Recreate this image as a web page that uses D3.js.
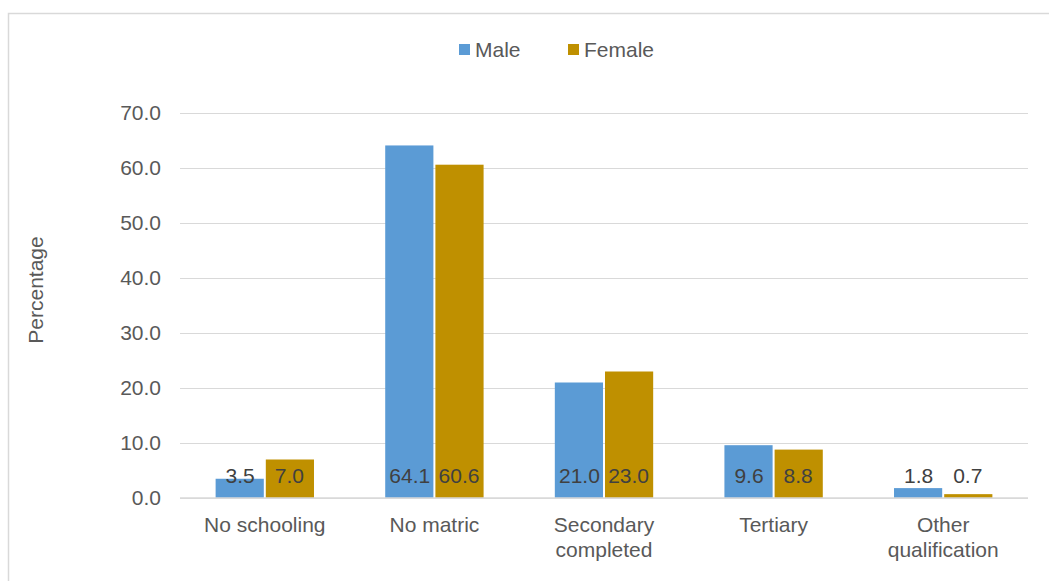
<!DOCTYPE html>
<html>
<head>
<meta charset="utf-8">
<script src="https://cdn.jsdelivr.net/npm/d3@7"></script>
<style>
  html, body { margin: 0; padding: 0; background: #fff; }
  svg { display: block; font-family: Arial, "Liberation Sans", sans-serif; }
</style>
</head>
<body>
<svg id="chart" width="1049" height="581"></svg>
<script>
// Educational attainment by sex (percent)
const categories = [["No schooling"], ["No matric"], ["Secondary", "completed"], ["Tertiary"], ["Other", "qualification"]];
const seriesNames = ["Male", "Female"];
const male = [3.5, 64.1, 21.0, 9.6, 1.8];
const female = [7.0, 60.6, 23.0, 8.8, 0.7];
const yTicks = [0, 10, 20, 30, 40, 50, 60, 70];
const colors = ["#5B9BD5", "#BF9000"];

const svg = d3.select("#chart");
const W = 1049, H = 581;
const margin = { left: 180, right: 21, top: 113, bottom: 83 };
const plotW = W - margin.left - margin.right;
const plotH = H - margin.top - margin.bottom;

// outer chart frame
svg.append("rect")
  .attr("x", 8.5).attr("y", 13.5)
  .attr("width", 1100).attr("height", 700)
  .attr("fill", "none").attr("stroke", "#d9d9d9").attr("stroke-width", 1.5);

const keys = categories.map(c => c.join(" "));
const x = d3.scaleBand().domain(keys).range([0, plotW]).paddingInner(0.42).paddingOuter(0.21);
const xs = d3.scaleBand().domain(seriesNames).range([0, x.bandwidth()]);
const y = d3.scaleLinear().domain([0, 70]).range([plotH, 0]);

const g = svg.append("g").attr("transform", `translate(${margin.left},${margin.top})`);

// horizontal gridlines
const yAxis = d3.axisLeft(y).tickValues(yTicks).tickSize(-plotW).tickPadding(19)
  .tickFormat(d3.format(".1f"));
const ya = g.append("g").call(yAxis);
ya.select(".domain").remove();
ya.selectAll(".tick line").attr("stroke", "#d9d9d9").attr("stroke-width", 1);
ya.selectAll(".tick text").attr("fill", "#595959").style("font-size", "21px")
  .style("font-family", "Arial, 'Liberation Sans', sans-serif");

// bars
const rows = keys.map((k, i) => ({ key: k, values: [male[i], female[i]] }));
const groups = g.selectAll(".grp").data(rows).join("g")
  .attr("transform", d => `translate(${x(d.key)},0)`);

groups.selectAll("rect").data(d => d.values.map((v, j) => ({ v, j })))
  .join("rect")
  .attr("x", d => xs(seriesNames[d.j]) + (d.j === 1 ? 1 : 0))
  .attr("width", xs.bandwidth() - 1)
  .attr("y", d => y(d.v))
  .attr("height", d => plotH - y(d.v))
  .attr("fill", d => colors[d.j]);

// value labels at the base of each bar
groups.selectAll("text.val").data(d => d.values.map((v, j) => ({ v, j })))
  .join("text").attr("class", "val")
  .attr("x", d => xs(seriesNames[d.j]) + xs.bandwidth() / 2)
  .attr("y", plotH - 15)
  .attr("text-anchor", "middle")
  .attr("fill", "#404040")
  .style("font-size", "21px")
  .text(d => d3.format(".1f")(d.v));

// baseline axis
g.append("line").attr("x1", 0).attr("x2", plotW).attr("y1", plotH).attr("y2", plotH)
  .attr("stroke", "#d9d9d9").attr("stroke-width", 1.5);

// category labels
const cl = g.selectAll(".cat").data(categories).join("text")
  .attr("class", "cat")
  .attr("text-anchor", "middle")
  .attr("fill", "#595959")
  .style("font-size", "21px")
  .attr("transform", (d, i) => `translate(${x(keys[i]) + x.bandwidth() / 2},${plotH + 34})`);
cl.selectAll("tspan").data(d => d).join("tspan")
  .attr("x", 0).attr("dy", (d, i) => i === 0 ? 0 : 25).text(d => d);

// y axis title
svg.append("text")
  .attr("transform", "translate(43,290) rotate(-90)")
  .attr("text-anchor", "middle")
  .attr("fill", "#595959")
  .style("font-size", "21px")
  .text("Percentage");

// legend
const legend = svg.append("g");
const legendX = [459, 568];
seriesNames.forEach((name, i) => {
  legend.append("rect").attr("x", legendX[i]).attr("y", 44).attr("width", 11).attr("height", 11)
    .attr("fill", colors[i]);
  legend.append("text").attr("x", legendX[i] + 16).attr("y", 57)
    .attr("fill", "#595959").style("font-size", "21px").text(name);
});
</script>
</body>
</html>
